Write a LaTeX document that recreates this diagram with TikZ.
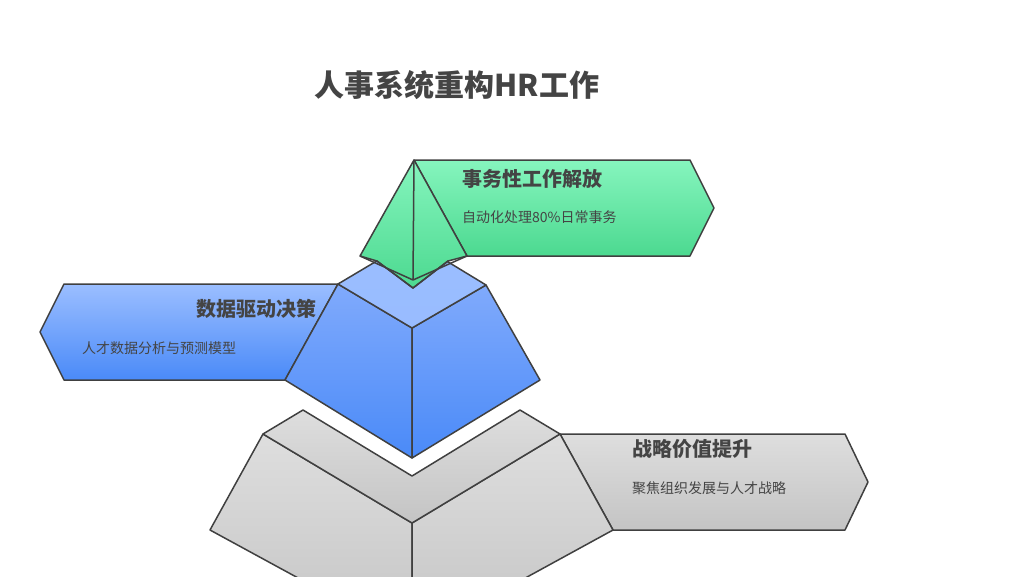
\documentclass[tikz,border=0pt]{standalone}
\usepackage{fontspec}
\setmainfont{Noto Sans CJK SC}
\definecolor{gtop}{RGB}{134,245,190}
\definecolor{gbot}{RGB}{76,217,144}
\definecolor{btop}{RGB}{155,190,255}
\definecolor{bmid}{RGB}{128,170,252}
\definecolor{bbot}{RGB}{74,138,248}
\definecolor{ytop}{RGB}{222,222,222}
\definecolor{ybot}{RGB}{196,196,196}
\definecolor{txt}{RGB}{68,68,68}
\begin{document}
\begin{tikzpicture}[x=1pt,y=-1pt,
  edge/.style={draw=black!75,line width=1.5pt,line join=round},
  gshade/.style={edge,top color=gtop,bottom color=gbot},
  bshade/.style={edge,top color=btop,bottom color=bbot},
  yshade/.style={edge,top color=ytop,bottom color=ybot},
  ttl/.style={font=\bfseries\fontsize{20}{24}\selectfont,text=txt,inner sep=0pt},
  sub/.style={font=\fontsize{14}{17}\selectfont,text=txt,inner sep=0pt}]
\useasboundingbox (0,0) rectangle (1024,576);
\clip (0,0) rectangle (1024,576);
% gray base
\path[yshade] (560,434) -- (845,434) -- (868,482) -- (845,530) -- (613,530) -- cycle;
\path[yshade] (263,434) -- (412,523) -- (412,640) -- (210,530) -- cycle;
\path[yshade] (412,523) -- (560,434) -- (613,530) -- (412,640) -- cycle;
\path[yshade] (263,434) -- (303,410) -- (412,476) -- (520,410) -- (560,434) -- (412,523) -- cycle;
% blue
\path[bshade] (40,332) -- (64,284) -- (338,284) -- (285,380) -- (64,380) -- cycle;
\path[edge,top color=bmid,bottom color=bbot] (338,284) -- (412,328) -- (412,458) -- (285,380) -- cycle;
\path[edge,top color=bmid,bottom color=bbot] (412,328) -- (486,285) -- (540,380) -- (412,458) -- cycle;
\path[edge,top color=btop,bottom color=btop!90!bmid] (338,284) -- (412,240) -- (486,285) -- (412,328) -- cycle;
% green
\path[gshade] (414,160) -- (690,160) -- (714,208) -- (690,256) -- (467,256) -- cycle;
\path[gshade] (414,160) -- (360,256) -- (377,261) -- (413,288) -- (448,261) -- (467,256) -- cycle;
\draw[edge] (414,160) -- (413,280) (360,256) -- (413,280) -- (467,256);
\draw[edge] (377,261) -- (413,288) -- (448,261);
% texts
\node[font=\bfseries\fontsize{30}{34}\selectfont,text=txt] (title) at (457,85) {人事系统重构HR工作};
\node[ttl,anchor=west] (t1) at (462,179) {事务性工作解放};
\node[sub,anchor=west] (s1) at (462,217) {自动化处理80\%日常事务};
\node[ttl,anchor=east] (t2) at (317,309) {数据驱动决策};
\node[sub,anchor=west] (s2) at (82,348) {人才数据分析与预测模型};
\node[ttl,anchor=west] (t3) at (632,449) {战略价值提升};
\node[sub,anchor=west] (s3) at (632,488) {聚焦组织发展与人才战略};
\end{tikzpicture}
\end{document}
